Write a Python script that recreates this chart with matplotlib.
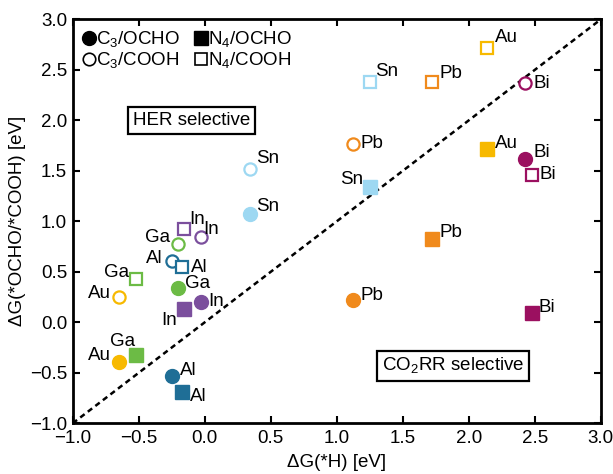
"""
Selectivity map: dG(*H) vs dG(*OCHO / *COOH) for C3 and N4 single-atom sites.
"""

import matplotlib
matplotlib.use('Agg')
import matplotlib.pyplot as plt
from matplotlib.lines import Line2D

plt.rcParams['font.family'] = ['Liberation Sans', 'DejaVu Sans']
plt.rcParams['mathtext.fontset'] = 'custom'
plt.rcParams['mathtext.rm'] = 'Liberation Sans'

FS = 13.5

# Data
elements = ['Au', 'Al', 'Ga', 'In', 'Sn', 'Pb', 'Bi']

c3_ocho_x = [-0.65, -0.25, -0.20, -0.03, 0.34, 1.12, 2.43]
c3_ocho_y = [-0.39, -0.53, 0.34, 0.20, 1.07, 0.22, 1.62]

c3_cooh_x = [-0.65, -0.25, -0.20, -0.03, 0.34, 1.12, 2.43]
c3_cooh_y = [0.25, 0.61, 0.78, 0.85, 1.52, 1.77, 2.37]

n4_ocho_x = [2.14, -0.17, -0.52, -0.16, 1.25, 1.72, 2.48]
n4_ocho_y = [1.72, -0.69, -0.32, 0.13, 1.34, 0.83, 0.09]

n4_cooh_x = [2.14, -0.17, -0.52, -0.16, 1.25, 1.72, 2.48]
n4_cooh_y = [2.72, 0.55, 0.43, 0.92, 2.38, 2.38, 1.46]

colors = {
    'Au': '#F7B900',
    'Al': '#1F6E96',
    'Ga': '#6CBB45',
    'In': '#7B4F9D',
    'Sn': '#9DD8F2',
    'Pb': '#F08A1C',
    'Bi': '#9B1060',
}

# label offsets (pixels, text centre relative to marker), same order as elements
off_c3_ocho = [(-19, 6), (17, 5), (19, 4), (15, 1), (18, 8), (19, 5), (16, 6)]
off_c3_cooh = [(-19, 4), (-17, 2), (-21, 6), (10, 7), (18, 10), (19, 0), (16, 0)]
off_n4_ocho = [(19, 5), (16, -5), (-14, 13), (-14, -11), (-18, 8), (19, 6), (15, 6)]
off_n4_cooh = [(19, 10), (17, -1), (-20, 6), (14, 10), (17, 11), (19, 9), (16, 0)]

fig = plt.figure(figsize=(6.13, 4.74), dpi=100)
ax = fig.add_axes([0.1186, 0.107, 0.8614, 0.852])

ax.plot([-1, 3], [-1, 3], ls=(0, (2.2, 1.6)), color='black', lw=1.8, zorder=1)

series = [
    (c3_ocho_x, c3_ocho_y, 'o', True, off_c3_ocho),
    (c3_cooh_x, c3_cooh_y, 'o', False, off_c3_cooh),
    (n4_ocho_x, n4_ocho_y, 's', True, off_n4_ocho),
    (n4_cooh_x, n4_cooh_y, 's', False, off_n4_cooh),
]

for xs, ys, mk, filled, offs in series:
    for el, x, y, (dx, dy) in zip(elements, xs, ys, offs):
        c = colors[el]
        ms = 10 if mk == 'o' else 9.5
        if filled:
            ax.plot(x, y, marker=mk, ms=ms, color=c, mec=c, ls='none', zorder=3)
        else:
            ax.plot(x, y, marker=mk, ms=ms - 1.2, mfc='white', mec=c, mew=1.6,
                    ls='none', zorder=3)
        ax.annotate(el, (x, y), xytext=(dx * 0.72, dy * 0.72),
                    textcoords='offset points', ha='center', va='center',
                    fontsize=FS, zorder=4)

box = dict(boxstyle='square,pad=0.25', fc='white', ec='black', lw=1.6)
ax.text(-0.1, 2.0, 'HER selective', fontsize=FS, ha='center', va='center', bbox=box)
ax.text(1.88, -0.43, 'CO$_2$RR selective', fontsize=FS, ha='center', va='center',
        bbox=box)

handles = [
    Line2D([], [], marker='o', color='black', ls='none', ms=10),
    Line2D([], [], marker='o', mfc='white', mec='black', mew=1.2, ls='none', ms=9),
    Line2D([], [], marker='s', color='black', ls='none', ms=9.5),
    Line2D([], [], marker='s', mfc='white', mec='black', mew=1.2, ls='none', ms=9),
]
labels = ['C$_3$/OCHO', 'C$_3$/COOH', 'N$_4$/OCHO', 'N$_4$/COOH']
ax.legend(handles, labels, loc='upper left', ncol=2, frameon=False, fontsize=FS,
          handlelength=0.6, handletextpad=0.1, columnspacing=0.8,
          labelspacing=0.02, borderaxespad=0.35, borderpad=0.2)

ax.set_xlim(-1, 3)
ax.set_ylim(-1, 3)
ax.set_xticks([-1.0, -0.5, 0.0, 0.5, 1.0, 1.5, 2.0, 2.5, 3.0])
ax.set_yticks([-1.0, -0.5, 0.0, 0.5, 1.0, 1.5, 2.0, 2.5, 3.0])
ax.tick_params(direction='in', top=True, right=True, length=5, width=1.5,
               labelsize=FS)
ax.tick_params(axis='x', pad=5)
ax.tick_params(axis='y', pad=4)
for sp in ax.spines.values():
    sp.set_linewidth(2)

ax.set_xlabel('ΔG(*H) [eV]', fontsize=FS, labelpad=5)
ax.set_ylabel('ΔG(*OCHO/*COOH) [eV]', fontsize=FS, labelpad=3)

fig.savefig('out.png', dpi=100)
